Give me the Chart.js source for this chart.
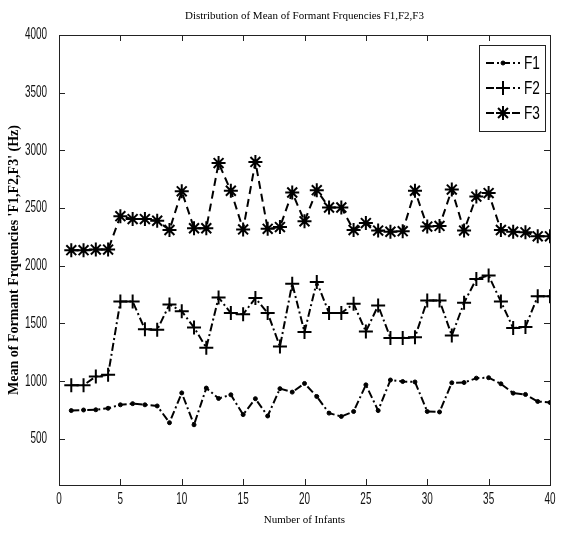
<!DOCTYPE html>
<html lang="en">
<head>
  <meta charset="UTF-8">
  <title>Distribution of Mean of Formant Frquencies</title>
  <script src="https://cdn.jsdelivr.net/npm/chart.js"></script>
  <style>
    * { margin: 0; padding: 0; box-sizing: border-box; }
    body { background: #fff; }
    .wrap { position: relative; width: 562px; height: 533px; }
  </style>
</head>
<body>
  <div class="wrap"><canvas id="formantChart"></canvas></div>

  <script>
    // data
    const infants = [1, 2, 3, 4, 5, 6, 7, 8, 9, 10, 11, 12, 13, 14, 15, 16, 17, 18, 19, 20,
                     21, 22, 23, 24, 25, 26, 27, 28, 29, 30, 31, 32, 33, 34, 35, 36, 37, 38, 39, 40];
    const f1 = [745, 750, 752, 765, 795, 805, 795, 785, 640, 898, 622, 940, 850, 882, 710, 848, 698, 935, 905, 980,
                867, 723, 694, 737, 968, 745, 1010, 997, 993, 737, 733, 986, 988, 1026, 1030, 977, 896, 885, 824, 815];
    const f2 = [965, 965, 1040, 1055, 1690, 1690, 1450, 1445, 1665, 1605, 1465, 1290, 1725, 1590, 1580, 1720, 1590, 1300, 1845, 1425,
                1860, 1590, 1590, 1670, 1430, 1655, 1375, 1375, 1380, 1700, 1700, 1395, 1680, 1885, 1915, 1690, 1460, 1470, 1735, 1735];
    const f3 = [2135, 2135, 2140, 2140, 2430, 2405, 2405, 2390, 2310, 2645, 2325, 2325, 2890, 2650, 2315, 2900, 2320, 2335, 2635, 2385,
                2655, 2505, 2505, 2310, 2370, 2305, 2295, 2300, 2650, 2340, 2345, 2660, 2305, 2600, 2630, 2310, 2295, 2290, 2255, 2255];
    const xTicks = [0, 5, 10, 15, 20, 25, 30, 35, 40];
    const yTicks = [500, 1000, 1500, 2000, 2500, 3000, 3500, 4000];

    const sans = "'Liberation Sans', Arial, sans-serif";
    const serif = "'Liberation Serif', 'DejaVu Serif', serif";

    const pts = arr => infants.map((x, i) => ({ x: x, y: arr[i] }));

    // condensed text, the matlab tick font is tall and narrow
    function narrowText(ctx, text, x, y, align, size, sx) {
      ctx.save();
      ctx.translate(x, y);
      ctx.scale(sx || 0.62, 1);
      ctx.font = size + 'px ' + sans;
      ctx.textAlign = align;
      ctx.textBaseline = 'middle';
      ctx.fillText(text, 0, 0);
      ctx.restore();
    }

    // axes box with inward ticks on all four sides (matlab style)
    const frame = {
      id: 'frame',
      beforeDatasetsDraw(chart) {
        const { ctx, chartArea: a, scales } = chart;
        ctx.save();
        ctx.strokeStyle = '#222';
        ctx.lineWidth = 1;
        ctx.strokeRect(a.left + 0.5, a.top + 0.5, a.right - a.left, a.bottom - a.top);
        ctx.beginPath();
        scales.x.ticks.forEach(t => {
          const px = Math.round(scales.x.getPixelForValue(t.value)) + 0.5;
          ctx.moveTo(px, a.bottom); ctx.lineTo(px, a.bottom - 6);
          ctx.moveTo(px, a.top); ctx.lineTo(px, a.top + 6);
        });
        scales.y.ticks.forEach(t => {
          const py = Math.round(scales.y.getPixelForValue(t.value)) + 0.5;
          ctx.moveTo(a.left, py); ctx.lineTo(a.left + 6, py);
          ctx.moveTo(a.right, py); ctx.lineTo(a.right - 6, py);
        });
        ctx.stroke();

        // tick labels
        ctx.fillStyle = '#111';
        scales.x.ticks.forEach(t => {
          narrowText(ctx, String(t.value), scales.x.getPixelForValue(t.value), a.bottom + 15, 'center', 16);
        });
        scales.y.ticks.forEach(t => {
          narrowText(ctx, String(t.value), a.left - 12, scales.y.getPixelForValue(t.value), 'right', 16);
        });
        ctx.restore();
      },
      afterDraw(chart) {
        const { ctx, chartArea: a } = chart;
        ctx.save();
        // title centred over the plot box
        ctx.fillStyle = '#000';
        ctx.font = '11px ' + serif;
        ctx.textAlign = 'center';
        ctx.textBaseline = 'middle';
        ctx.fillText('Distribution of Mean of Formant Frquencies F1,F2,F3', (a.left + a.right) / 2, 16);

        // legend box in the top right corner
        const bx = 479, by = 45, bw = 66, bh = 86;
        ctx.fillStyle = '#fff';
        ctx.fillRect(bx, by, bw, bh);
        ctx.strokeStyle = '#222';
        ctx.lineWidth = 1;
        ctx.strokeRect(bx + 0.5, by + 0.5, bw, bh);
        chart.data.datasets.forEach((ds, i) => {
          const y = 63 + i * 25;
          ctx.save();
          ctx.strokeStyle = '#000';
          ctx.lineWidth = ds.borderWidth;
          ctx.setLineDash(ds.borderDash);
          ctx.beginPath();
          ctx.moveTo(486, y); ctx.lineTo(520, y);
          ctx.stroke();
          ctx.restore();
          ctx.save();
          ctx.strokeStyle = '#000';
          ctx.fillStyle = '#000';
          ctx.lineWidth = ds.pointBorderWidth;
          Chart.helpers.drawPoint(ctx, { pointStyle: ds.pointStyle, radius: ds.pointRadius, borderWidth: ds.pointBorderWidth, rotation: 0 }, 503, y);
          ctx.restore();
          ctx.fillStyle = '#000';
          narrowText(ctx, ds.label, 524, y + 1, 'left', 19, 0.72);
        });
        ctx.restore();
      }
    };

    const ctx = document.getElementById('formantChart').getContext('2d');
    new Chart(ctx, {
      type: 'line',
      data: {
        datasets: [
          {
            label: 'F1',
            data: pts(f1),
            borderColor: '#000',
            backgroundColor: '#000',
            borderWidth: 2,
            borderDash: [8, 3, 2, 3],
            pointStyle: 'circle',
            pointRadius: 2,
            pointBorderWidth: 1,
            tension: 0
          },
          {
            label: 'F2',
            data: pts(f2),
            borderColor: '#000',
            backgroundColor: '#000',
            borderWidth: 2,
            borderDash: [8, 3, 2, 3],
            pointStyle: 'cross',
            pointRadius: 7,
            pointBorderWidth: 2,
            tension: 0
          },
          {
            label: 'F3',
            data: pts(f3),
            borderColor: '#000',
            backgroundColor: '#000',
            borderWidth: 2,
            borderDash: [8, 5],
            pointStyle: 'star',
            pointRadius: 7,
            pointBorderWidth: 2,
            tension: 0
          }
        ]
      },
      options: {
        responsive: true,
        maintainAspectRatio: false,
        animation: false,
        layout: { padding: { top: 35, right: 12, left: 0, bottom: 0 } },
        plugins: {
          legend: { display: false },
          title: { display: false },
          tooltip: { enabled: false }
        },
        scales: {
          x: {
            type: 'linear',
            min: 0,
            max: 40,
            afterBuildTicks: s => { s.ticks = xTicks.map(v => ({ value: v })); },
            afterFit: s => { s.height = 48; },
            grid: { display: false },
            border: { display: false },
            ticks: { display: false },
            title: {
              display: true,
              text: 'Number of Infants',
              color: '#000',
              font: { family: serif, size: 11 },
              padding: { top: 0, bottom: 6 }
            }
          },
          y: {
            min: 100,
            max: 4000,
            afterBuildTicks: s => { s.ticks = yTicks.map(v => ({ value: v })); },
            afterFit: s => { s.width = 59; },
            grid: { display: false },
            border: { display: false },
            ticks: { display: false },
            title: {
              display: true,
              text: "Mean of Formant Frquencies 'F1,F2,F3' (Hz)",
              color: '#000',
              font: { family: serif, size: 14, weight: 'bold' },
              padding: { top: 6, bottom: 0 }
            }
          }
        }
      },
      plugins: [frame]
    });
  </script>
</body>
</html>
